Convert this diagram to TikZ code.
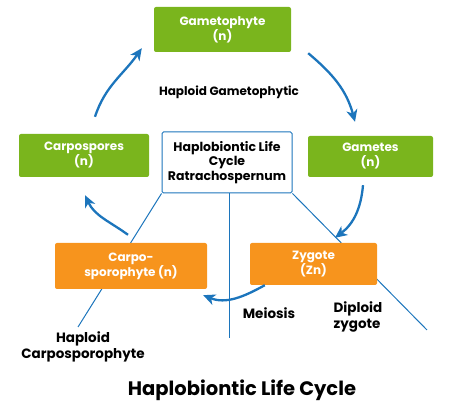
\documentclass[tikz,border=0pt]{standalone}
\usepackage{fontspec}
\setmainfont{Poppins}
\usetikzlibrary{arrows.meta}
\definecolor{leaf}{HTML}{7AB51D}
\definecolor{peel}{HTML}{F7941D}
\definecolor{sea}{HTML}{1C75BC}

\begin{document}
\begin{tikzpicture}[x=1pt, y=1pt, >={Stealth[length=12pt,width=11pt,inset=3.5pt]},
  hbox/.style={fill=leaf, rounded corners=2pt, text=white, align=center,
    font=\bfseries\fontsize{12}{15}\selectfont, inner sep=0pt},
  dbox/.style={hbox, fill=peel},
  cyc/.style={->, draw=sea, line width=2.3pt},
  rib/.style={draw=sea, line width=1pt},
  lab/.style={font=\bfseries\fontsize{13.5}{16}\selectfont, align=center}]
\useasboundingbox (0,0) rectangle (450,414);
% centre
\node[draw=sea, line width=1pt, fill=white, rounded corners=1.5pt, minimum width=130, minimum height=61,
  align=center, font=\bfseries\fontsize{12.5}{14.5}\selectfont, inner sep=0pt] (core) at (227,251.5)
  {Haplobiontic Life\\Cycle\\Ratrachospernum};
% lignes
\coordinate (lend) at (78,87);
\coordinate (mend) at (229,76);
\coordinate (rend) at (427,84);
\draw[rib] (core.south west) -- (lend);
\draw[rib] (core.south) ++(2,0) -- (mend);
\draw[rib] (core.south east) -- (rend);
% haploide
\node[hbox, minimum width=137, minimum height=45] (gamo) at (222.5,384.5) {Gametophyte\\(n)};
\node[hbox, minimum width=130, minimum height=43] (spores) at (84,258.5) {Carpospores\\(n)};
\node[hbox, minimum width=125, minimum height=41] (gametes) at (370.5,257.5) {Gametes\\(n)};
% diploide
\node[dbox, minimum width=152, minimum height=46] (carpo) at (131,148) {Carpo-\\sporophyte (n)};
\node[dbox, minimum width=127, minimum height=42] (zyg) at (313.5,150) {Zygote\\(Zn)};
% fleches
\draw[cyc] ([xshift=11,yshift=17]spores.north) to[out=72,in=235] ([xshift=-12,yshift=4]gamo.south west);
\draw[cyc] ([xshift=17,yshift=-1]gamo.south east) to[out=-40,in=105] ([xshift=-15.5,yshift=14]gametes.north);
\draw[cyc] ([xshift=-7.5,yshift=-8]gametes.south) to[out=-95,in=37] ([xshift=21.5,yshift=5]zyg.north);
\draw[cyc] ([xshift=15,yshift=0]zyg.south west) to[out=-151,in=-22] ([xshift=-4,yshift=-6]carpo.south east);
\draw[cyc] ([xshift=-3,yshift=8]carpo.north) to[out=144,in=-65] ([xshift=1,yshift=-18]spores.south);
% textes
\node[lab, font=\bfseries\fontsize{12}{14}\selectfont] (hg) at (229,322) {Haploid Gametophytic};
\node[lab] (mei) at (269,101) {Meiosis};
\node[lab, align=left] (dz) at (358,97) {Diploid\\zygote};
\node[lab] (hc) at (83,67) {Haploid\\Carposporophyte};
\node[font=\bfseries\fontsize{19.5}{23}\selectfont] (title) at (242,24) {Haplobiontic Life Cycle};
\end{tikzpicture}
\end{document}
